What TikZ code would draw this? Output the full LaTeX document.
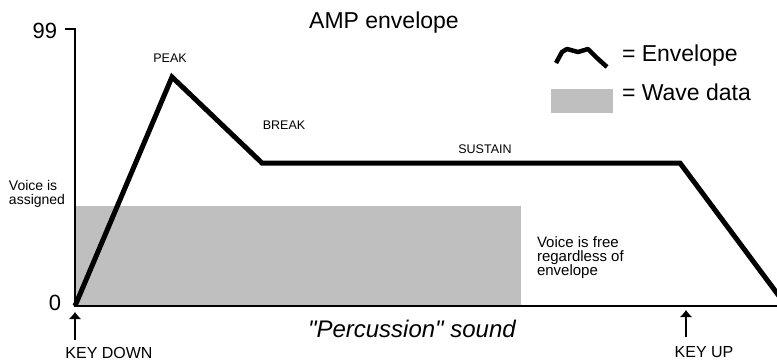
\documentclass[tikz,border=0pt]{standalone}
\usepackage{fontspec}
\setmainfont{Liberation Sans}[Ligatures=TeXOff]
\usetikzlibrary{arrows.meta}
\begin{document}
\begin{tikzpicture}[x=1pt,y=-1pt,
  every node/.style={inner sep=0pt,outer sep=0pt},
  env/.style={line width=5pt,line join=miter,line cap=butt},
  axis/.style={line width=2.8pt},
  wave/.style={fill=black!25,draw=none},
  small/.style={font=\fontsize{12.5}{14}\selectfont},
  key/.style={font=\fontsize{16}{18}\selectfont},
  big/.style={font=\fontsize{23}{26}\selectfont},
  keyarrow/.style={line width=2pt,-{Latex[length=7pt,width=13pt]}}]
\useasboundingbox (0,0) rectangle (777,360);
% wave data
\fill[wave] (75,206) rectangle (521,306);
% axes
\coordinate (top) at (75,29);
\coordinate (origin) at (75,306);
\coordinate (xend) at (777,306);
\coordinate (tickl) at (65,29);
\draw[axis] (tickl) -- (top) -- (origin) -- (xend);
% envelope
\coordinate (peak) at (172,77);
\coordinate (brk) at (262,163);
\coordinate (sus) at (680,163);
\coordinate (rel) at (782,300);
\draw[env] (origin) -- (peak) -- (brk) -- (sus) -- (rel);
% labels
\node[anchor=base east,font=\fontsize{22}{24}\selectfont] (n99) at (57,38) {99};
\node[anchor=base east,font=\fontsize{22}{24}\selectfont] (n0) at (61,310) {0};
\node[big,anchor=base] (title) at (384,28) {AMP envelope};
\node[small,anchor=base] (lpeak) at (170,62) {PEAK};
\node[small,anchor=base] (lbreak) at (284,129) {BREAK};
\node[small,anchor=base] (lsus) at (485,153) {SUSTAIN};
\node[font=\fontsize{14}{13.8}\selectfont,align=left,anchor=north west] (assigned) at (9,180.5) {Voice is\\assigned};
\node[font=\fontsize{15}{14}\selectfont,align=left,anchor=north west] (free) at (537,237) {Voice is free\\regardless of\\envelope};
\node[font=\fontsize{24}{26}\selectfont\itshape,anchor=base west] (perc) at (308,337) {"Percussion" sound};
% key arrows
\coordinate (kd1) at (75,340);
\coordinate (kd2) at (75,312);
\draw[keyarrow] (kd1) -- (kd2);
\node[key,anchor=base] (keydown) at (109,358) {KEY DOWN};
\coordinate (ku1) at (686,337);
\coordinate (ku2) at (686,310);
\draw[keyarrow] (ku1) -- (ku2);
\node[key,anchor=base] (keyup) at (704,357) {KEY UP};
% legend
\draw[line width=4.5pt,line join=round] (556,63) -- (562,52) -- (567,49) -- (578,52) -- (588,49) -- (597,58) -- (607,67);
\node[big,anchor=base west] (lenv) at (622,61) {= Envelope};
\fill[wave] (551,89) rectangle (613,113);
\node[big,anchor=base west] (lwave) at (622,100) {= Wave data};
\end{tikzpicture}
\end{document}
